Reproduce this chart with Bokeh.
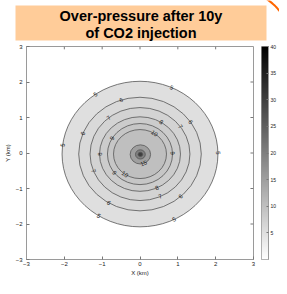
import numpy as np
from bokeh.plotting import figure
from bokeh.models import Range1d, FixedTicker, LinearColorMapper, ColumnDataSource
from bokeh.layouts import column, row
from bokeh.palettes import Greys256
from bokeh.embed import file_html
from bokeh.resources import INLINE
from bokeh.core.properties import value

# ---------------- data ----------------
title_lines = ["Over-pressure after 10y", "of CO2 injection"]

# filled contour levels (over-pressure) and their extents (km)
levels = [5, 6, 7, 8, 9, 10, 15, 20, 30]
radius_x = [2.06, 1.62, 1.32, 1.07, 0.86, 0.70, 0.27, 0.13, 0.06]
radius_y = [2.05, 1.60, 1.31, 1.05, 0.86, 0.69, 0.27, 0.13, 0.06]
center_x = [0.0, 0.0, 0.0, 0.0, 0.0, 0.0, 0.01, 0.01, 0.01]
center_y = [-0.03, -0.03, -0.03, -0.03, -0.03, -0.03, -0.04, -0.04, -0.04]

# contour labels: level and polar angle (deg) where the label sits
label_levels = [5, 5, 5, 5, 5, 5, 6, 6, 6, 6, 6, 7, 7, 7, 7, 8, 8, 8, 9, 9, 9, 10, 10, 15]
label_angles = [125, 173, 238, 296, 66, 1, 108, 159, 239, 312, 34, 129, 201, 294, 36,
                180, 295, 58, 149, 218, 2, 235, 57, 289]

x_ticks = [-3, -2, -1, 0, 1, 2, 3]
y_ticks = [-3, -2, -1, 0, 1, 2, 3]
cbar_ticks = [5, 10, 15, 20, 25, 30, 35, 40]
cbar_low, cbar_high = 0, 40

FONT = "Liberation Sans"
FRAME = "#9a9a9a"
TICK = "#777777"

W = 279
TH = 44
H = 278 - TH
PW = 261

# ---------------- title strip ----------------
t = figure(width=W, height=TH, x_range=Range1d(0, W), y_range=Range1d(TH, 0),
           output_backend="svg", toolbar_location=None, x_axis_type=None, y_axis_type=None,
           min_border=0, min_border_left=0, min_border_right=0, min_border_top=0, min_border_bottom=0)
t.outline_line_color = None
t.quad(left=15, right=266, top=5, bottom=40, fill_color="#FFCC99", line_color=None)
t.text(x=[140.5, 140.5], y=[15, 32.5], text=title_lines, text_font=value(FONT),
       text_font_style="bold", text_font_size="14.5px", text_align="center",
       text_baseline="middle", text_color="black")
th = np.radians(np.linspace(5, 85, 60))
t.line(238.7 + 50.8 * np.cos(th), 41.4 - 50.8 * np.sin(th), line_color="#FF6600", line_width=2)

# ---------------- main contour map ----------------
mapper = LinearColorMapper(palette=list(reversed(Greys256)), low=cbar_low, high=cbar_high)

p = figure(width=PW, height=H, x_range=Range1d(-3, 3), y_range=Range1d(-3, 3),
           output_backend="svg", toolbar_location=None,
           min_border_left=26, min_border_right=8, min_border_top=2, min_border_bottom=13)
p.grid.visible = False
p.outline_line_color = FRAME

rx = np.array(radius_x)
ry = np.array(radius_y)
src = ColumnDataSource(dict(x=center_x, y=center_y, w=2 * rx, h=2 * ry, level=levels))
p.ellipse(x="x", y="y", width="w", height="h", source=src,
          fill_color={"field": "level", "transform": mapper},
          line_color="#555555", line_width=0.8)

lx, ly, lt, la = [], [], [], []
for lev, ang in zip(label_levels, label_angles):
    i = levels.index(lev)
    a = np.radians(ang)
    r = rx[i] * ry[i] / np.sqrt((ry[i] * np.cos(a)) ** 2 + (rx[i] * np.sin(a)) ** 2)
    lx.append(center_x[i] + r * np.cos(a))
    ly.append(center_y[i] + r * np.sin(a))
    lt.append(str(lev))
    tang = (ang + 90) % 180
    if tang > 90:
        tang -= 180
    la.append(np.radians(tang))
p.text(x=lx, y=ly, text=lt, angle=la, text_font=value(FONT), text_font_size="6px",
       text_align="center", text_baseline="middle", text_color="#222222")

# tick marks on the top and right edges of the box (matlab style)
tick_len = 0.08
inner_x = x_ticks[1:-1]
inner_y = y_ticks[1:-1]
p.segment(x0=inner_x, y0=[y_ticks[-1]] * len(inner_x), x1=inner_x,
          y1=[y_ticks[-1] - tick_len] * len(inner_x), line_color=TICK, line_width=1)
p.segment(x0=[x_ticks[-1]] * len(inner_y), y0=inner_y, x1=[x_ticks[-1] - tick_len] * len(inner_y),
          y1=inner_y, line_color=TICK, line_width=1)

p.xaxis.axis_label = "X (km)"
p.yaxis.axis_label = "Y (km)"
for ax, ticks, ls, als in ((p.xaxis[0], x_ticks, 2, 1), (p.yaxis[0], y_ticks, 4, 2)):
    ax.ticker = FixedTicker(ticks=ticks)
    ax.major_tick_in = 3
    ax.major_tick_out = 0
    ax.minor_tick_line_color = None
    ax.axis_line_color = FRAME
    ax.major_tick_line_color = TICK
    ax.major_label_text_font = FONT
    ax.major_label_text_font_size = "6px"
    ax.major_label_text_color = "#222222"
    ax.major_label_standoff = ls
    ax.axis_label_text_font = FONT
    ax.axis_label_text_font_size = "6px"
    ax.axis_label_text_font_style = "normal"
    ax.axis_label_text_color = "#222222"
    ax.axis_label_standoff = als

# ---------------- colour bar ----------------
c = figure(width=W - PW, height=H, x_range=Range1d(0, 1), y_range=Range1d(cbar_low, cbar_high),
           output_backend="svg", toolbar_location=None, x_axis_type=None,
           y_axis_location="right",
           min_border_left=0, min_border_right=8, min_border_top=2, min_border_bottom=13)
c.grid.visible = False
c.outline_line_color = FRAME
c.image(image=[np.linspace(cbar_low, cbar_high, 256).reshape(-1, 1)], x=0, y=cbar_low,
        dw=1, dh=cbar_high - cbar_low, color_mapper=mapper)
ca = c.yaxis[0]
ca.ticker = FixedTicker(ticks=cbar_ticks)
ca.major_tick_in = 2
ca.major_tick_out = 0
ca.minor_tick_line_color = None
ca.axis_line_color = FRAME
ca.major_tick_line_color = TICK
ca.major_label_text_font = FONT
ca.major_label_text_font_size = "5px"
ca.major_label_text_color = "#222222"
ca.major_label_standoff = 2

layout = column(t, row(p, c))
open("out.html", "w").write(file_html(layout, INLINE))
